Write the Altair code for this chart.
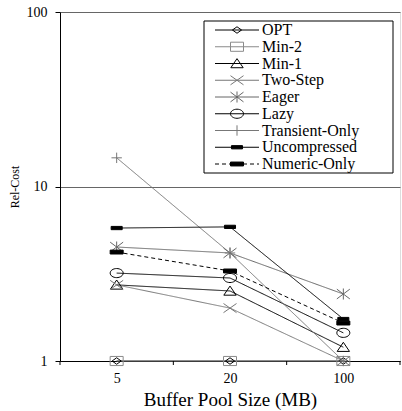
import altair as alt
import pandas as pd

# Buffer pool sizes (MB) on the x axis
sizes = ["5", "20", "100"]

# Series names, in legend order
series = ["OPT", "Min-2", "Min-1", "Two-Step", "Eager", "Lazy",
          "Transient-Only", "Uncompressed", "Numeric-Only"]

# Relative cost per series at 5, 20, 100 MB
opt_vals = [1.0, 1.0, 1.0]
min2_vals = [1.0, 1.0, 1.0]
min1_vals = [2.73, 2.52, 1.20]
twostep_vals = [2.73, 2.01, 1.0]
eager_vals = [4.5, 4.16, 2.42]
lazy_vals = [3.19, 2.99, 1.45]
transient_vals = [14.6, 4.16, 1.0]
uncompressed_vals = [5.78, 5.87, 1.74]
numeric_vals = [4.21, 3.28, 1.65]

all_vals = [opt_vals, min2_vals, min1_vals, twostep_vals, eager_vals,
            lazy_vals, transient_vals, uncompressed_vals, numeric_vals]

# Styling per series
colors = ["#000000", "#8a8a8a", "#000000", "#777777", "#666666",
          "#000000", "#777777", "#000000", "#000000"]
dashes = [[1, 0]] * 8 + [[4, 3]]
shapes = [
    "M-0.7,0L0,-0.5L0.7,0L0,0.5Z",
    "M-1,-0.7H1V0.7H-1Z",
    "M-0.95,0.65L0,-0.75L0.95,0.65Z",
    "M-1,-0.7L1,0.7M-1,0.7L1,-0.7",
    "M-1,-0.75L1,0.75M-1,0.75L1,-0.75M0,-0.85V0.85",
    "M-1,0A1,0.7 0 1 1 1,0A1,0.7 0 1 1 -1,0Z",
    "M-0.8,0H0.8M0,-0.8V0.8",
    "M-0.85,-0.25H0.85V0.25H-0.85Z",
    "M-1,-0.3H1V0.3H-1Z",
]
fills = ["transparent"] * 7 + ["#000000", "#000000"]

rows = []
for s, vals in zip(series, all_vals):
    for j, v in enumerate(vals):
        rows.append({"series": s, "pos": j, "size": sizes[j], "value": v})
df = pd.DataFrame(rows)

FONT = "Liberation Serif"
W, H = 340, 349

color_enc = alt.Color("series:N", scale=alt.Scale(domain=series, range=colors), legend=None)
stroke_enc = alt.Stroke("series:N", scale=alt.Scale(domain=series, range=colors), legend=None)
dash_enc = alt.StrokeDash("series:N", scale=alt.Scale(domain=series, range=dashes), legend=None)
shape_enc = alt.Shape("series:N", scale=alt.Scale(domain=series, range=shapes), legend=None)
fill_enc = alt.Fill("series:N", scale=alt.Scale(domain=series, range=fills), legend=None)

label_expr = "datum.value == 0 ? '5' : datum.value == 1 ? '20' : datum.value == 2 ? '100' : ''"

x_enc = alt.X(
    "pos:Q",
    scale=alt.Scale(domain=[-0.5, 2.5], nice=False, zero=False),
    axis=alt.Axis(values=[0, 1, 2], labelExpr=label_expr, title="Buffer Pool Size (MB)",
                  grid=False, ticks=False, domainColor="#000000", labelPadding=10,
                  labelFont=FONT, labelFontSize=14, labelColor="#000000",
                  titleFont=FONT, titleFontSize=19, titleFontWeight="normal",
                  titleColor="#000000", titlePadding=5),
)
y_enc = alt.Y(
    "value:Q",
    scale=alt.Scale(type="log", domain=[1, 100], nice=False),
    axis=alt.Axis(values=[1, 10, 100], format="d", title="Rel-Cost",
                  grid=True, gridColor="#666666", gridWidth=1,
                  domainColor="#000000", tickColor="#000000", tickSize=5,
                  labelPadding=8, labelFont=FONT, labelFontSize=14, labelColor="#000000",
                  titleFont=FONT, titleFontSize=12, titleFontWeight="normal",
                  titleColor="#000000", titleX=-46, titleY=H / 2,
                  titleBaseline="middle", titleAngle=270),
)

lines = alt.Chart(df).mark_line(strokeWidth=1).encode(
    x=x_enc, y=y_enc, color=color_enc, strokeDash=dash_enc, detail="series:N"
)
points = alt.Chart(df).mark_point(size=169, opacity=1, strokeWidth=1).encode(
    x="pos:Q", y="value:Q", shape=shape_enc, stroke=stroke_enc, fill=fill_enc
)

# Tick marks at the category boundaries of the x axis
bounds = pd.DataFrame({"b": [-0.5, 0.5, 1.5, 2.5]})
xticks = alt.Chart(bounds).mark_rule(color="#000000", strokeWidth=1).encode(
    x="b:Q", y=alt.value(H), y2=alt.value(H + 4)
)

main = alt.layer(lines, points, xticks)

# Legend drawn inside the plot area
leg = pd.DataFrame({"series": series, "idx": list(range(len(series)))})
leg_base = alt.Chart(leg).transform_calculate(ly="18 + datum.idx * 16.75")
ly = alt.Y("ly:Q", scale=None, axis=None)

box = alt.Chart(pd.DataFrame({"k": [0]})).mark_rect(
    fill="#ffffff", stroke="#000000", strokeWidth=1
).encode(x=alt.value(144), x2=alt.value(333), y=alt.value(9), y2=alt.value(161))

leg_lines = leg_base.mark_rule(strokeWidth=1).encode(
    x=alt.value(155), x2=alt.value(199), y=ly, color=color_enc, strokeDash=dash_enc
)
leg_points = leg_base.mark_point(size=169, opacity=1, strokeWidth=1).encode(
    x=alt.value(177), y=ly, shape=shape_enc, stroke=stroke_enc, fill=fill_enc
)
leg_text = leg_base.mark_text(
    align="left", baseline="middle", font=FONT, fontSize=16, color="#000000"
).encode(x=alt.value(202), y=ly, text="series:N")

legend = alt.layer(box, leg_lines, leg_points, leg_text)

chart = alt.layer(main, legend).resolve_scale(
    x="independent", y="independent"
).properties(
    width=W, height=H,
    padding={"left": 60, "top": 12, "right": 2, "bottom": 50},
    autosize="none",
).configure_view(stroke="#b0b0b0", strokeWidth=1).configure(background="#ffffff")

chart.save("out.html", embed_options={"renderer": "svg", "actions": False})
